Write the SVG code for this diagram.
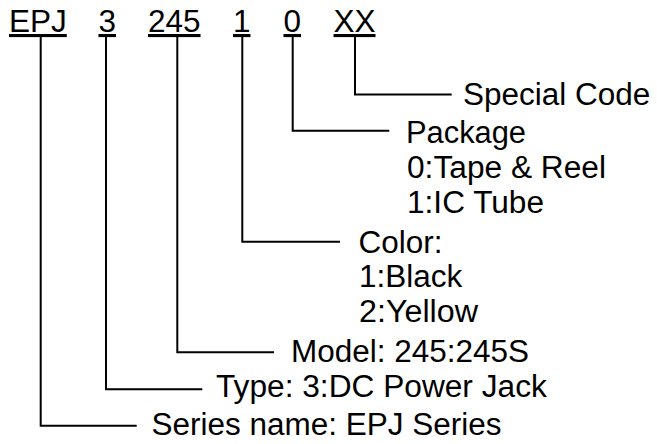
<svg xmlns="http://www.w3.org/2000/svg" width="657" height="444" viewBox="0 0 657 444">
<style>
text{font-family:"Liberation Sans",Arial,sans-serif;font-size:31px;fill:#000}
.u{text-decoration:underline}
.c{fill:none;stroke:#000;stroke-width:2}
</style>
<rect width="657" height="444" fill="#fff"/>
<g id="code">
<g id="seg-epj"><text class="u" x="9" y="32" textLength="57.8" lengthAdjust="spacingAndGlyphs">EPJ</text></g>
<g id="seg-type"><text class="u" x="98.5" y="32" textLength="17.5" lengthAdjust="spacingAndGlyphs">3</text></g>
<g id="seg-model"><text class="u" x="148" y="32" textLength="52.5" lengthAdjust="spacingAndGlyphs">245</text></g>
<g id="seg-color"><text class="u" x="233" y="32" textLength="17.5" lengthAdjust="spacingAndGlyphs">1</text></g>
<g id="seg-package"><text class="u" x="283.5" y="32" textLength="17.5" lengthAdjust="spacingAndGlyphs">0</text></g>
<g id="seg-special"><text class="u" x="333.5" y="32" textLength="42" lengthAdjust="spacingAndGlyphs">XX</text></g>
</g>
<g id="connectors">
<path class="c" d="M40.7,36 V425.7 H136.7"/>
<path class="c" d="M106,36 V389.3 H202.3"/>
<path class="c" d="M177.3,36 V352.3 H274"/>
<path class="c" d="M242.3,36 V241.7 H340"/>
<path class="c" d="M292.7,36 V130.7 H389.3"/>
<path class="c" d="M355,36 V94.5 H451.7"/>
</g>
<g id="label-special"><text x="463" y="105" textLength="187.3" lengthAdjust="spacingAndGlyphs">Special Code</text></g>
<g id="label-package">
<text x="406" y="143" textLength="120" lengthAdjust="spacingAndGlyphs">Package</text>
<text x="407" y="178" textLength="199" lengthAdjust="spacingAndGlyphs">0:Tape &amp; Reel</text>
<text x="407" y="213" textLength="137" lengthAdjust="spacingAndGlyphs">1:IC Tube</text>
</g>
<g id="label-color">
<text x="358.5" y="253" textLength="84" lengthAdjust="spacingAndGlyphs">Color:</text>
<text x="359" y="287" textLength="103.3" lengthAdjust="spacingAndGlyphs">1:Black</text>
<text x="359" y="322" textLength="119" lengthAdjust="spacingAndGlyphs">2:Yellow</text>
</g>
<g id="label-model"><text x="291" y="362" textLength="238.1" lengthAdjust="spacingAndGlyphs">Model: 245:245S</text></g>
<g id="label-type"><text x="216" y="397" textLength="330.8" lengthAdjust="spacingAndGlyphs">Type: 3:DC Power Jack</text></g>
<g id="label-series"><text x="151.5" y="435" textLength="350.1" lengthAdjust="spacingAndGlyphs">Series name: EPJ Series</text></g>
</svg>
